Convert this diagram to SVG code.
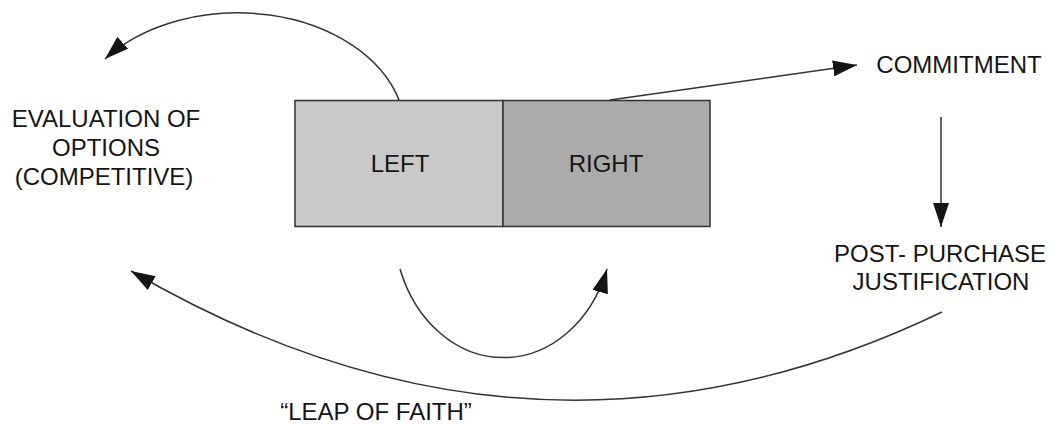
<svg xmlns="http://www.w3.org/2000/svg" width="1050" height="424" viewBox="0 0 1050 424">
<style>
  text { font-family: "Liberation Sans", Arial, sans-serif; font-size: 24px; fill: #151515; text-anchor: middle; }
  .box { stroke: #333; stroke-width: 1.5; }
  .conn { fill: none; stroke: #333; stroke-width: 1.5; marker-end: url(#head); }
</style>
<defs>
  <marker id="head" markerUnits="userSpaceOnUse" markerWidth="24" markerHeight="16" refX="24" refY="8" orient="auto">
    <path d="M0,0 L24,8 L0,16 z" fill="#151515"/>
  </marker>
</defs>
<rect width="1050" height="424" fill="#ffffff"/>
<g id="left">
  <rect class="box" x="295" y="100.5" width="208" height="126" fill="#c9c9c9"/>
  <text x="400" y="172">LEFT</text>
</g>
<g id="right">
  <rect class="box" x="503" y="100.5" width="207" height="126" fill="#ababab"/>
  <text x="606" y="172">RIGHT</text>
</g>
<g id="evaluation">
  <text x="106" y="127">EVALUATION OF</text>
  <text x="106" y="156">OPTIONS</text>
  <text x="104" y="185">(COMPETITIVE)</text>
</g>
<g id="commitment">
  <text x="959" y="73">COMMITMENT</text>
</g>
<g id="postpurchase">
  <text x="940" y="262">POST- PURCHASE</text>
  <text x="941" y="290">JUSTIFICATION</text>
</g>
<g id="leap">
  <text x="376" y="420">“LEAP OF FAITH”</text>
</g>
<g id="connectors">
  <path class="conn" d="M399,100 A168,120 0 0 0 105,59"/>
  <path class="conn" d="M610,100 L857,65"/>
  <path class="conn" d="M941,117 L941,227"/>
  <path class="conn" d="M400,269 A110,134 0 0 0 607,269"/>
  <path class="conn" d="M942,312 Q536,507 131,271"/>
</g>
</svg>
